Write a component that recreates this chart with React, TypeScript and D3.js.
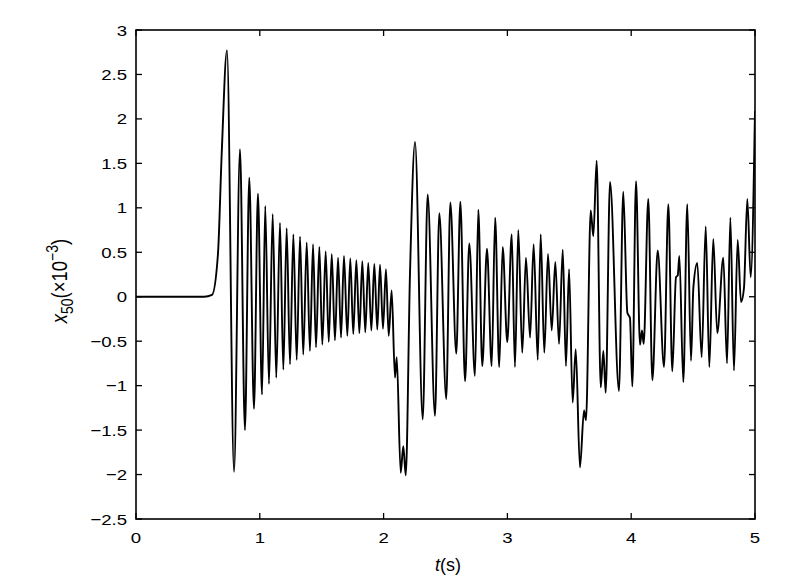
import React from "react";
import * as d3 from "d3";

const time = [0, 0.55, 0.614, 0.662, 0.692, 0.735, 0.792, 0.840, 0.880, 0.915, 0.953, 0.985, 1.018, 1.044, 1.074, 1.104, 1.133, 1.163, 1.190, 1.217, 1.244, 1.271, 1.298, 1.325, 1.351, 1.379, 1.405, 1.430, 1.454, 1.481, 1.505, 1.532, 1.557, 1.581, 1.607, 1.632, 1.656, 1.680, 1.707, 1.731, 1.755, 1.780, 1.804, 1.828, 1.852, 1.876, 1.901, 1.925, 1.949, 1.971, 1.995, 2.019, 2.041, 2.065, 2.092, 2.106, 2.138, 2.159, 2.179, 2.213, 2.254, 2.316, 2.356, 2.415, 2.450, 2.506, 2.539, 2.587, 2.620, 2.658, 2.692, 2.738, 2.765, 2.797, 2.835, 2.873, 2.901, 2.934, 2.962, 2.999, 3.035, 3.061, 3.088, 3.120, 3.150, 3.183, 3.212, 3.245, 3.269, 3.298, 3.328, 3.358, 3.387, 3.417, 3.447, 3.473, 3.498, 3.527, 3.552, 3.586, 3.619, 3.635, 3.673, 3.694, 3.721, 3.754, 3.775, 3.794, 3.829, 3.901, 3.936, 3.969, 3.990, 4.009, 4.039, 4.071, 4.087, 4.101, 4.138, 4.171, 4.214, 4.265, 4.300, 4.332, 4.362, 4.376, 4.389, 4.421, 4.453, 4.483, 4.502, 4.534, 4.569, 4.602, 4.631, 4.663, 4.695, 4.744, 4.774, 4.801, 4.830, 4.860, 4.887, 4.911, 4.938, 4.965, 5.000];

const displacement = [0, 0, 0.02, 0.48, 1.6, 2.77, -1.97, 1.66, -1.50, 1.34, -1.26, 1.16, -1.10, 1.02, -0.98, 0.93, -0.91, 0.83, -0.82, 0.77, -0.76, 0.70, -0.71, 0.675, -0.65, 0.61, -0.61, 0.59, -0.57, 0.56, -0.54, 0.51, -0.51, 0.48, -0.49, 0.44, -0.46, 0.46, -0.44, 0.43, -0.42, 0.41, -0.41, 0.40, -0.40, 0.38, -0.38, 0.37, -0.37, 0.36, -0.36, 0.31, -0.44, 0.07, -0.91, -0.68, -1.98, -1.68, -2.01, 0.25, 1.74, -1.38, 1.15, -1.34, 0.94, -1.15, 1.06, -0.64, 1.07, -0.95, 0.60, -0.89, 0.98, -0.78, 0.54, -0.78, 0.89, -0.79, 0.56, -0.51, 0.70, -0.79, 0.75, -0.63, 0.44, -0.46, 0.59, -0.71, 0.70, -0.63, 0.48, -0.38, 0.39, -0.53, 0.53, -0.78, 0.31, -1.19, -0.59, -1.92, -1.28, -1.39, 0.97, 0.68, 1.53, -1.02, -0.61, -1.08, 1.29, -1.06, 1.18, -0.18, -0.24, -1.01, 1.30, -0.54, -0.38, -0.53, 1.10, -0.94, 0.52, -0.79, 1.04, -0.84, 0.22, 0.24, 0.46, -0.96, 1.04, -0.72, 0.10, 0.38, -0.68, 0.79, -0.79, 0.65, -0.41, 0.44, -0.75, 0.89, -0.83, 0.64, -0.06, 0.10, 1.10, 0.22, 2.09];

const xTicks = [0, 1, 2, 3, 4, 5];
const yTicks = [-2.5, -2, -1.5, -1, -0.5, 0, 0.5, 1, 1.5, 2, 2.5, 3];

const fmt = (v: number) => (v < 0 ? "\u2212" + String(-v) : String(v));

export default function App() {
  const left = 136, right = 755, top = 30, bottom = 519;
  const x = d3.scaleLinear().domain([0, 5]).range([left, right]);
  const y = d3.scaleLinear().domain([-2.5, 3]).range([bottom, top]);
  const pts: [number, number][] = time.map((t, i) => [t, displacement[i]]);
  const line = d3
    .line<[number, number]>()
    .x((d) => x(d[0]))
    .y((d) => y(d[1]))
    .curve(d3.curveMonotoneX);
  const font = "'Liberation Sans', Arial, Helvetica, sans-serif";
  const tl = 6;
  return (
    <svg width={800} height={586} style={{ position: "absolute", left: 0, top: 0, background: "#fff" }} fontFamily={font}>
      <rect x={0} y={0} width={800} height={586} fill="#fff" />
      <defs>
        <clipPath id="plotclip">
          <rect x={left} y={top} width={right - left} height={bottom - top} />
        </clipPath>
      </defs>
      <path d={line(pts) || ""} fill="none" stroke="#000" strokeWidth={1.9} strokeLinejoin="round" clipPath="url(#plotclip)" />
      <rect x={left} y={top} width={right - left} height={bottom - top} fill="none" stroke="#000" strokeWidth={1.6} />
      {xTicks.map((t) => (
        <g key={"x" + t}>
          <line x1={x(t)} x2={x(t)} y1={bottom} y2={bottom - tl} stroke="#000" strokeWidth={1.3} />
          <line x1={x(t)} x2={x(t)} y1={top} y2={top + tl} stroke="#000" strokeWidth={1.3} />
          <text transform={`translate(${x(t)},543) scale(1.2,1)`} fontSize={15.5} textAnchor="middle" fill="#000">{fmt(t)}</text>
        </g>
      ))}
      {yTicks.map((v) => (
        <g key={"y" + v}>
          <line x1={left} x2={left + tl} y1={y(v)} y2={y(v)} stroke="#000" strokeWidth={1.3} />
          <line x1={right} x2={right - tl} y1={y(v)} y2={y(v)} stroke="#000" strokeWidth={1.3} />
          <text transform={`translate(127,${y(v) + 5.5}) scale(1.2,1)`} fontSize={15.5} textAnchor="end" fill="#000">{fmt(v)}</text>
        </g>
      ))}
      <text x={448} y={571} fontSize={18} textAnchor="middle" fill="#000">
        <tspan fontStyle="italic">t</tspan>
        <tspan>(s)</tspan>
      </text>
      <text transform="translate(67,281) rotate(-90) scale(1,1.15)" fontSize={18.5} textAnchor="middle" fill="#000">
        <tspan fontStyle="italic">x</tspan>
        <tspan fontSize={14} dy={5}>50</tspan>
        <tspan dy={-5}>(×10</tspan>
        <tspan fontSize={14} dy={-8}>−3</tspan>
        <tspan dy={8}>)</tspan>
      </text>
    </svg>
  );
}
